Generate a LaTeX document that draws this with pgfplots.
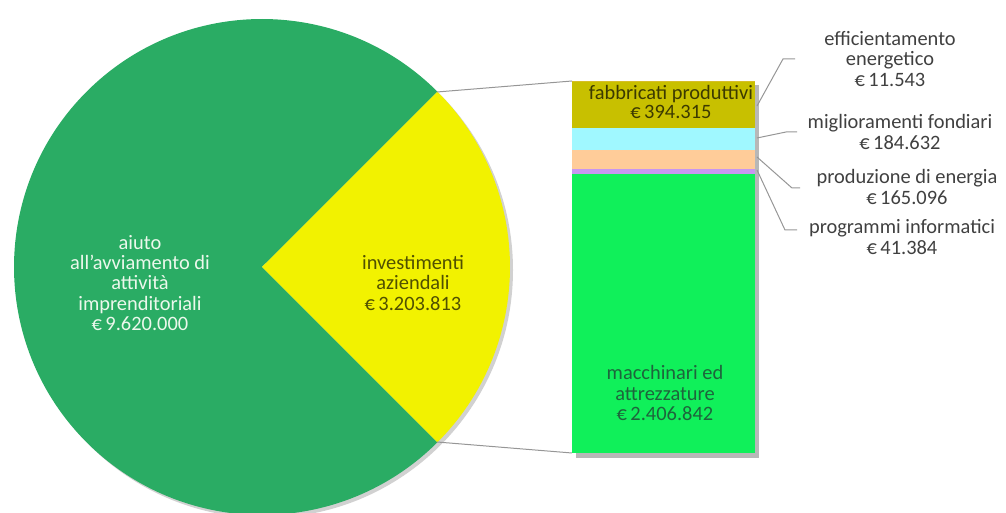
\documentclass[border=0pt]{standalone}
\usepackage{pgfplots}
\pgfplotsset{compat=1.18}
\usepackage{fontspec}
\setmainfont{Carlito}
\definecolor{piegreen}{RGB}{42,172,100}
\definecolor{pieyellow}{RGB}{242,242,0}
\definecolor{fabb}{RGB}{200,192,0}
\definecolor{cyanb}{RGB}{160,248,255}
\definecolor{peach}{RGB}{255,204,153}
\definecolor{purp}{RGB}{200,150,240}
\definecolor{macc}{RGB}{16,240,90}
\definecolor{effc}{RGB}{214,190,40}
\definecolor{linecol}{RGB}{150,150,150}
\definecolor{labgray}{RGB}{64,64,64}
\definecolor{piewhite}{RGB}{236,248,236}
\definecolor{yeltext}{RGB}{80,80,0}
\definecolor{fabtext}{RGB}{60,58,0}
\definecolor{maccText}{RGB}{30,100,60}
\newcommand{\lab}{\fontsize{20.5}{20.5}\selectfont}
\pgfplotsset{frame/.style={at={(0,0)},anchor=south west,scale only axis,
  width=1006bp,height=513bp,xmin=0,xmax=1006,ymin=0,ymax=513,hide axis}}
\begin{document}
\begin{tikzpicture}
\pgfmathsetmacro{\vA}{9620.000}
\pgfmathsetmacro{\vB}{3203.813}
\pgfmathsetmacro{\ha}{\vB/(\vA+\vB)*180}
\begin{axis}[frame]
 % pie shadow
 \fill[black!18] (axis cs:265,243) circle[radius=248bp];
 \fill[piegreen] (axis cs:262,246) -- ++(\ha:248bp) arc[start angle=\ha, end angle=360-\ha, radius=248bp] -- cycle;
 \fill[pieyellow] (axis cs:262,246) -- ++(-\ha:248bp) arc[start angle=-\ha, end angle=\ha, radius=248bp] -- cycle;
 % connectors pie -> bar
 \draw[linecol, line width=1bp] (axis cs:437,421) -- (axis cs:572,432);
 \draw[linecol, line width=1bp] (axis cs:437,71) -- (axis cs:572,60);
 % bar shadow
 \fill[black!28] (axis cs:576,55) rectangle (axis cs:759,428);
 % leader lines
 \draw[linecol, line width=1bp] (axis cs:757,407) -- (axis cs:783,454) -- (axis cs:795,454);
 \draw[linecol, line width=1bp] (axis cs:757,375) -- (axis cs:786,381) -- (axis cs:797,381);
 \draw[linecol, line width=1bp] (axis cs:757,356) -- (axis cs:792,325) -- (axis cs:800,325);
 \draw[linecol, line width=1bp] (axis cs:757,343) -- (axis cs:785,283) -- (axis cs:797,283);
 % labels
 \node[font=\lab, text=piewhite, align=center] at (axis cs:140,230) {aiuto\\all'avviamento di\\attività\\imprenditoriali\\€\,9.620.000};
 \node[font=\lab, text=yeltext, align=center] at (axis cs:413,230) {investimenti\\aziendali\\€\,3.203.813};
 \node[font=\lab, text=labgray, align=center] at (axis cs:890,454) {efficientamento\\energetico\\€\,11.543};
 \node[font=\lab, text=labgray, align=center] at (axis cs:900,381) {miglioramenti fondiari\\€\,184.632};
 \node[font=\lab, text=labgray, align=center] at (axis cs:907,326) {produzione di energia\\€\,165.096};
 \node[font=\lab, text=labgray, align=center] at (axis cs:902,276) {programmi informatici\\€\,41.384};
\end{axis}
\begin{axis}[at={(572bp,60bp)},anchor=south west,scale only axis,
  width=183bp,height=372bp,xmin=-0.5,xmax=0.5,ymin=0,ymax=3203813,
  hide axis,ybar stacked,bar width=183bp,clip=false]
 \addplot[fill=macc,draw=none] coordinates {(0,2406842)};
 \addplot[fill=purp,draw=none] coordinates {(0,41384)};
 \addplot[fill=peach,draw=none] coordinates {(0,165096)};
 \addplot[fill=cyanb,draw=none] coordinates {(0,184632)};
 \addplot[fill=fabb,draw=none] coordinates {(0,394315)};
 \addplot[fill=effc,draw=none] coordinates {(0,11543)};
\end{axis}
\begin{axis}[frame]
 \node[font=\fontsize{20.5}{19.5}\selectfont, text=fabtext, align=center] at (axis cs:671,411) {fabbricati produttivi\\€\,394.315};
 \node[font=\lab, text=maccText, align=center] at (axis cs:665,120) {macchinari ed\\attrezzature\\€\,2.406.842};
\end{axis}
\pgfresetboundingbox
\useasboundingbox (0,0) rectangle (1006bp,513bp);
\end{tikzpicture}
\end{document}
